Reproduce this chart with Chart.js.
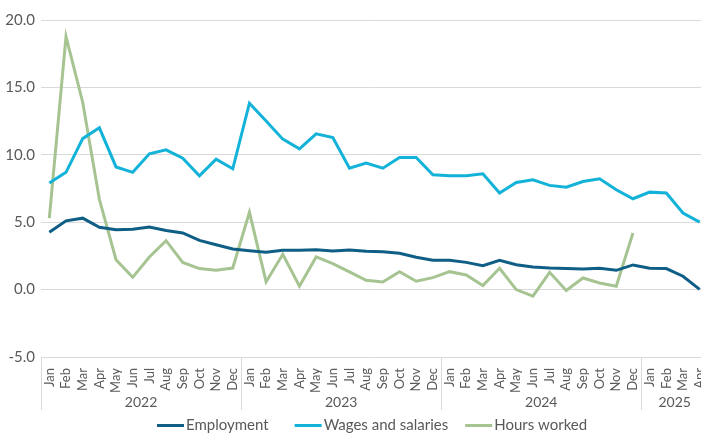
<!DOCTYPE html>
<html>
<head>
<meta charset="utf-8">
<script src="https://cdn.jsdelivr.net/npm/chart.js@4/dist/chart.umd.min.js"></script>
<style>
html,body{margin:0;padding:0;overflow:hidden;background:#fff;width:701px;height:436px;}
#wrap{position:absolute;left:0;top:0;width:708px;height:436px;}
</style>
</head>
<body>
<div id="wrap"><canvas id="c" width="708" height="436"></canvas></div>
<script>
const months = ['Jan','Feb','Mar','Apr','May','Jun','Jul','Aug','Sep','Oct','Nov','Dec',
  'Jan','Feb','Mar','Apr','May','Jun','Jul','Aug','Sep','Oct','Nov','Dec',
  'Jan','Feb','Mar','Apr','May','Jun','Jul','Aug','Sep','Oct','Nov','Dec',
  'Jan','Feb','Mar','Apr'];
const years = ['2022','2023','2024','2025'];
const monthsPerYear = [12,12,12,4];
const yTicks = [-5,0,5,10,15,20];

const employment = [4.25,5.1,5.3,4.62,4.44,4.47,4.64,4.39,4.2,3.65,3.33,3.01,
  2.89,2.77,2.91,2.91,2.96,2.87,2.94,2.84,2.81,2.69,2.4,2.17,
  2.17,2.02,1.78,2.17,1.85,1.68,1.6,1.56,1.53,1.58,1.43,1.83,
  1.58,1.56,0.99,0.02];
const wages = [7.9,8.7,11.2,12.0,9.1,8.7,10.07,10.37,9.75,8.44,9.68,8.96,
  13.83,12.5,11.16,10.44,11.56,11.28,9.01,9.38,9.01,9.8,9.8,8.52,
  8.44,8.44,8.59,7.16,7.95,8.15,7.73,7.6,8.02,8.22,7.41,6.74,
  7.23,7.16,5.68,5.01];
const hours = [5.3,18.77,13.9,6.7,2.22,0.91,2.42,3.63,2.02,1.56,1.43,1.6,
  5.73,0.57,2.62,0.25,2.42,1.93,1.31,0.69,0.57,1.33,0.62,0.89,
  1.33,1.09,0.3,1.58,0.0,-0.49,1.28,-0.07,0.86,0.49,0.25,4.2,
  null,null,null,null];

const FONT = 'Lato, "Open Sans", sans-serif';
const TXT = '#595959';

const yearPlugin = {
  id: 'yearGroups',
  afterDraw(chart) {
    const x = chart.scales.x;
    const ctx = chart.ctx;
    const area = chart.chartArea;
    const half = (x.getPixelForValue(1) - x.getPixelForValue(0)) / 2;
    ctx.save();
    ctx.strokeStyle = '#d9d9d9';
    ctx.lineWidth = 1;
    ctx.fillStyle = TXT;
    ctx.font = '14px ' + FONT;
    ctx.textAlign = 'center';
    ctx.textBaseline = 'middle';
    let idx = 0;
    const top = area.bottom;
    const bottom = area.bottom + 53;
    for (let i = 0; i < years.length; i++) {
      const start = x.getPixelForValue(idx) - half;
      const end = x.getPixelForValue(idx + monthsPerYear[i] - 1) + half;
      ctx.beginPath();
      ctx.moveTo(Math.round(start) + 0.5, top);
      ctx.lineTo(Math.round(start) + 0.5, bottom);
      ctx.stroke();
      ctx.fillText(years[i], (start + end) / 2, area.bottom + 45);
      idx += monthsPerYear[i];
    }
    // legend
    ctx.font = '15px ' + FONT;
    ctx.textAlign = 'left';
    const sw = 27, gapText = 2, gaps = [26, 17];
    let lx = 157;
    const ly = 425.5;
    chart.data.datasets.forEach((d, i) => {
      ctx.strokeStyle = d.borderColor;
      ctx.lineWidth = 3;
      ctx.beginPath();
      ctx.moveTo(lx, ly);
      ctx.lineTo(lx + sw, ly);
      ctx.stroke();
      ctx.fillText(d.label, lx + sw + gapText, ly);
      lx += sw + gapText + ctx.measureText(d.label).width + (gaps[i] || 0);
    });
    ctx.restore();
  }
};

new Chart(document.getElementById('c'), {
  type: 'line',
  data: {
    labels: months,
    datasets: [
      {label: 'Employment', data: employment, borderColor: '#0F5E85', backgroundColor: '#0F5E85', borderWidth: 3, pointRadius: 0, tension: 0},
      {label: 'Wages and salaries', data: wages, borderColor: '#12B2D9', backgroundColor: '#12B2D9', borderWidth: 3, pointRadius: 0, tension: 0},
      {label: 'Hours worked', data: hours, borderColor: '#A6C492', backgroundColor: '#A6C492', borderWidth: 3, pointRadius: 0, tension: 0, spanGaps: false}
    ]
  },
  options: {
    responsive: false,
    animation: false,
    layout: {padding: {top: 20, right: 0, bottom: 23, left: 0}},
    plugins: {
      tooltip: {enabled: false},
      legend: {display: false}
    },
    scales: {
      x: {
        type: 'category',
        offset: true,
        grid: {display: false},
        border: {display: false},
        ticks: {autoSkip: false, maxRotation: 90, minRotation: 90, padding: 3, color: TXT, font: {family: FONT, size: 13}},
        afterFit(s) { s.height = 56; s.paddingLeft = 0; s.paddingRight = 0; }
      },
      y: {
        min: -5, max: 20,
        afterBuildTicks(s) { s.ticks = yTicks.map(v => ({value: v})); },
        grid: {color: '#d9d9d9', lineWidth: 1, drawTicks: false},
        border: {display: false},
        ticks: {padding: 6, color: TXT, font: {family: FONT, size: 15}, callback: v => Number(v).toFixed(1)},
        afterFit(s) { s.width = 41; }
      }
    }
  },
  plugins: [yearPlugin]
});
</script>
</body>
</html>
